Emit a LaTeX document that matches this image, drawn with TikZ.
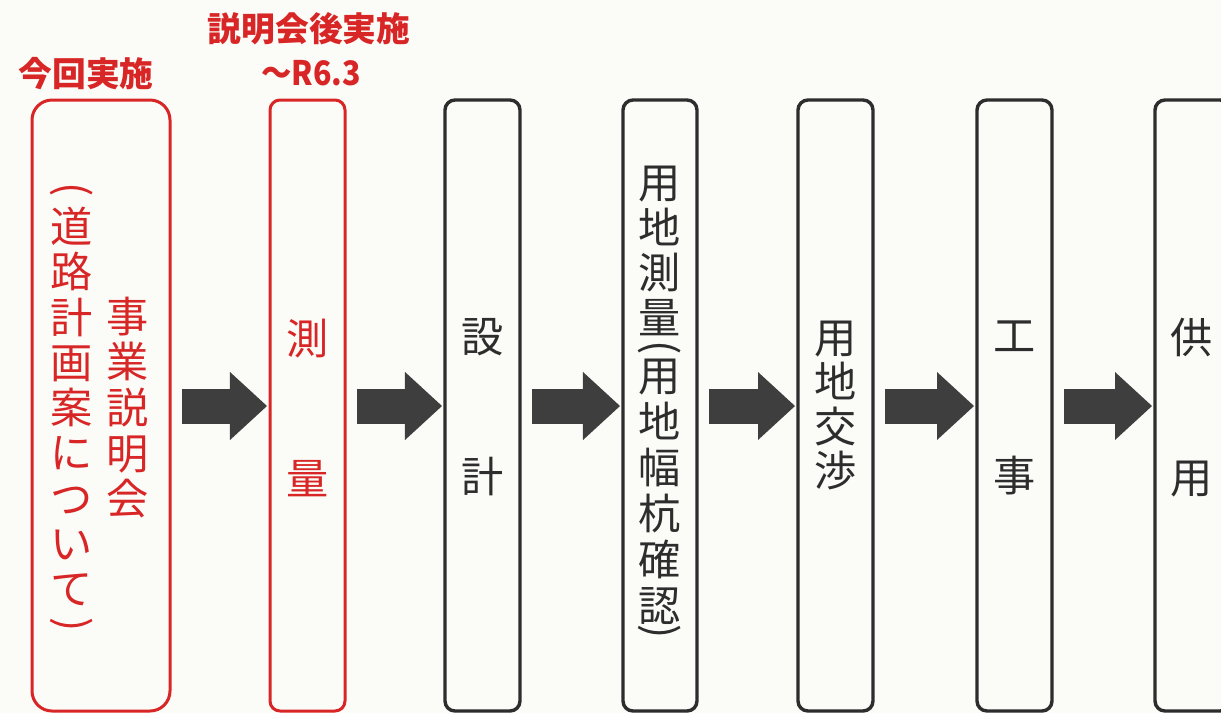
\documentclass[tikz,border=0pt]{standalone}
\usepackage{fontspec}
\newfontfamily\jp{Noto Sans CJK JP}
\usetikzlibrary{arrows.meta,fit}
\definecolor{redc}{RGB}{216,38,38}
\definecolor{darkc}{RGB}{45,45,45}
\definecolor{arrowc}{RGB}{62,62,62}
\definecolor{paper}{RGB}{251,251,248}
\begin{document}
\begin{tikzpicture}[x=0.025cm,y=-0.025cm,
  redbox/.style={draw=redc,line width=0.075cm,rounded corners=0.25cm,inner sep=0pt,outer sep=0pt},
  graybox/.style={draw=darkc,line width=0.085cm,rounded corners=0.25cm,inner sep=0pt,outer sep=0pt},
  vtxt/.style={font=\jp\fontsize{30}{32.5}\selectfont,align=center,inner sep=0pt},
  lbl/.style={font=\jp\bfseries\fontsize{24}{26}\selectfont,text=redc,inner sep=0pt},
  flow/.style={draw=arrowc,line width=0.875cm,-{Triangle[length=0.925cm,width=1.7cm,line width=0pt]},shorten <=0.3cm,shorten >=0.075cm}]
\useasboundingbox[fill=paper] (0,0) rectangle (1221,713);
\coordinate (ay) at (0,406);
% boxes
\node[redbox,rounded corners=0.5cm,fit={(32,100)(170,711)}] (b1) {};
\node[redbox,fit={(270,100)(345,711)}] (b2) {};
\node[graybox,fit={(445,100)(520,711)}] (b3) {};
\node[graybox,fit={(623,100)(697,711)}] (b4) {};
\node[graybox,fit={(798,100)(873,711)}] (b5) {};
\node[graybox,fit={(977,100)(1052,711)}] (b6) {};
\node[graybox,fit={(1155,100)(1230,711)}] (b7) {};
% labels
\node[lbl] (l1) at (86,74) {今回実施};
\node[lbl] (l2) at (309,29) {説明会後実施};
\node[lbl] (l3) at (311,73) {\scalebox{0.9}[1]{～R6.3}};
% texts
\node[vtxt,text=redc] (t1p) at (72,190) {\rotatebox{-90}{(}};
\node[vtxt,text=redc,font=\jp\fontsize{30}{32.2}\selectfont] (t1a) at (72,406.5) {道\\路\\計\\画\\案\\に\\つ\\い\\て};
\node[vtxt,text=redc] (t1q) at (72,625) {\rotatebox{-90}{)}};
\node[vtxt,text=redc] (t1b) at (128,407.5) {事\\業\\説\\明\\会};
\node[vtxt,text=redc] (t2) at (307.5,407.5) {測\\[67pt]量};
\node[vtxt,text=darkc] (t3) at (482.5,407.5) {設\\[67pt]計};
\node[vtxt,text=darkc,font=\jp\fontsize{30}{32}\selectfont] (t4a) at (660,251) {用\\地\\測\\量};
\node[vtxt,text=darkc] (t4p) at (660,348) {\rotatebox{-90}{(}};
\node[vtxt,text=darkc,font=\jp\fontsize{30}{32.7}\selectfont] (t4b) at (660,492) {用\\地\\幅\\杭\\確\\認};
\node[vtxt,text=darkc] (t4q) at (660,632) {\rotatebox{-90}{)}};
\node[vtxt,text=darkc,font=\jp\fontsize{30}{31.5}\selectfont] (t5) at (835.5,405.5) {用\\地\\交\\渉};
\node[vtxt,text=darkc] (t6) at (1014.5,407.5) {工\\[67pt]事};
\node[vtxt,text=darkc] (t7) at (1192,407.5) {供\\[67pt]用};
% arrows
\draw[flow] (b1.east |- ay) -- (b2.west |- ay);
\draw[flow] (b2.east |- ay) -- (b3.west |- ay);
\draw[flow] (b3.east |- ay) -- (b4.west |- ay);
\draw[flow] (b4.east |- ay) -- (b5.west |- ay);
\draw[flow] (b5.east |- ay) -- (b6.west |- ay);
\draw[flow] (b6.east |- ay) -- (b7.west |- ay);
\end{tikzpicture}
\end{document}
